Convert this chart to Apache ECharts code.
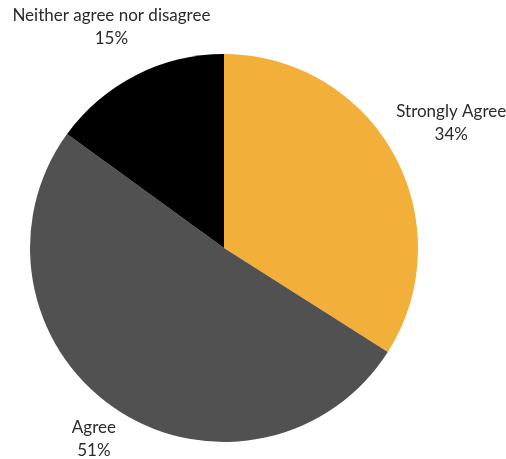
<!DOCTYPE html>
<html><head><meta charset="utf-8">
<script src="https://cdn.jsdelivr.net/npm/echarts@6/dist/echarts.min.js"></script>
<style>html,body{margin:0;padding:0;background:#fff}#c{width:506px;height:459px}</style>
</head><body><div id="c"></div>
<script>
const categories = ['Strongly Agree', 'Agree', 'Neither agree nor disagree'];
const values = [34, 51, 15];
const colors = ['#F2B03B', '#515151', '#000000'];

const FONT_SIZE = 17, LINE_H = 23, FONT = 'Lato';
const CX = 224, CY = 248, R = 194, LABEL_R = 200;

const ctx = document.createElement('canvas').getContext('2d');
ctx.font = FONT_SIZE + 'px ' + FONT;
const total = values.reduce((a, b) => a + b, 0);
const labelText = i => categories[i] + '\n' + values[i] + '%';

const chart = echarts.init(document.getElementById('c'), null, {renderer: 'canvas'});
chart.setOption({
  animation: false,
  series: [{
    type: 'pie',
    center: [CX, CY],
    radius: R,
    startAngle: 90,
    clockwise: true,
    avoidLabelOverlap: false,
    data: categories.map((n, i) => ({name: n, value: values[i], itemStyle: {color: colors[i]}})),
    label: {
      show: true,
      position: 'outside',
      formatter: p => labelText(p.dataIndex),
      color: '#2a2a2a',
      fontSize: FONT_SIZE,
      lineHeight: LINE_H,
      fontFamily: FONT,
      width: 320,
      align: 'center'
    },
    labelLine: {show: false},
    labelLayout: params => {
      const i = params.dataIndex;
      let before = 0;
      for (let k = 0; k < i; k++) before += values[k];
      const mid = (before + values[i] / 2) / total * 2 * Math.PI;
      const dx = Math.sin(mid), dy = -Math.cos(mid);
      const lines = labelText(i).split('\n');
      const w = Math.max(...lines.map(l => ctx.measureText(l).width));
      const h = lines.length * LINE_H;
      const off = Math.abs(dx) * w / 2 + Math.abs(dy) * h / 2;
      let x = CX + dx * (LABEL_R + off);
      let y = CY + dy * (LABEL_R + off);
      const minY = 4 + h / 2;
      if (y < minY) {
        y = minY;
        x = CX + dx * (CY - y) / (-dy);
      }
      return {x: x, y: y, align: 'center', verticalAlign: 'middle'};
    },
    emphasis: {disabled: true}
  }]
});
</script></body></html>
